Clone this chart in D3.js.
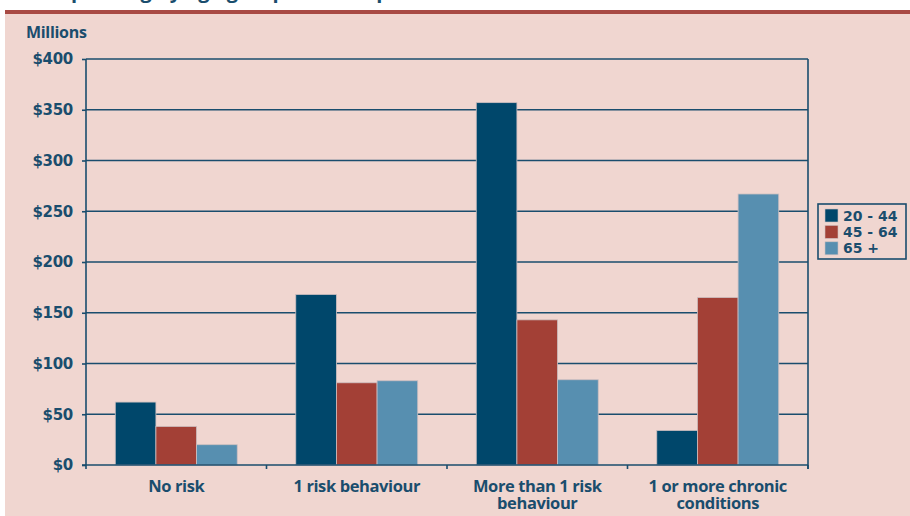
<!DOCTYPE html>
<html>
<head>
<meta charset="utf-8">
<script src="https://cdn.jsdelivr.net/npm/d3@7"></script>
<style>
  body { margin: 0; background: #fff; }
</style>
</head>
<body>
<script>
// Data (millions of dollars)
const categories = ["No risk", "1 risk behaviour", "More than 1 risk behaviour", "1 or more chronic conditions"];
const categoryLines = [["No risk"], ["1 risk behaviour"], ["More than 1 risk", "behaviour"], ["1 or more chronic", "conditions"]];
const seriesNames = ["20 - 44", "45 - 64", "65 +"];
const age20to44 = [62, 168, 357, 34];
const age45to64 = [38, 81, 143, 165];
const age65plus = [20, 83, 84, 267];
const yTicks = [0, 50, 100, 150, 200, 250, 300, 350, 400];

const seriesValues = [age20to44, age45to64, age65plus];
const colors = ["#00476b", "#a34036", "#578fb0"];
const ink = "#1a4d6d";

function createChart() {
    const svgWidth = 910, svgHeight = 516;
    const margin = { top: 59, right: 102, bottom: 51, left: 86 };
    const width = svgWidth - margin.left - margin.right;
    const height = svgHeight - margin.top - margin.bottom;

    const svg = d3.create("svg")
        .attr("width", svgWidth)
        .attr("height", svgHeight)
        .style("display", "block");

    // page background + header rule
    svg.append("rect").attr("x", 5).attr("y", 14).attr("width", svgWidth - 5).attr("height", svgHeight - 14)
        .attr("fill", "#f0d6d0");
    svg.append("rect").attr("x", 5).attr("y", 10).attr("width", svgWidth - 5).attr("height", 4)
        .attr("fill", "#a84a44");
    // title sits above the visible area, only descenders peek in
    svg.append("text")
        .attr("x", 60).attr("y", -2)
        .attr("fill", ink)
        .style("font", "bold 20px 'Open Sans', sans-serif")
        .text("Spending by age group and risk profile");

    svg.append("text")
        .attr("x", 26).attr("y", 38)
        .attr("fill", ink)
        .style("font", "bold 16px 'Open Sans', sans-serif")
        .style("letter-spacing", "-0.3px")
        .text("Millions");

    const g = svg.append("g")
        .attr("transform", `translate(${margin.left},${margin.top})`);

    const x0 = d3.scaleBand().domain(d3.range(categories.length)).range([0, width]).padding(0);
    const x1 = d3.scaleBand().domain(d3.range(seriesNames.length))
        .range([0, x0.bandwidth()]).paddingInner(0).paddingOuter(0.72);
    const y = d3.scaleLinear().domain([0, 400]).range([height, 0]);

    // gridlines
    g.append("g").selectAll("line")
        .data(yTicks.filter(d => d > 0))
        .join("line")
        .attr("x1", 0).attr("x2", width)
        .attr("y1", d => y(d)).attr("y2", d => y(d))
        .attr("stroke", ink).attr("stroke-width", 1.6);

    // right frame
    g.append("line")
        .attr("x1", width).attr("x2", width)
        .attr("y1", 0).attr("y2", height + 4)
        .attr("stroke", ink).attr("stroke-width", 1.6);

    // bars
    const groups = g.append("g").selectAll("g")
        .data(categories.map((c, i) => i))
        .join("g")
        .attr("transform", i => `translate(${x0(i)},0)`);

    groups.selectAll("rect")
        .data(i => seriesValues.map((vals, s) => ({ s, v: vals[i] })))
        .join("rect")
        .attr("x", d => x1(d.s))
        .attr("width", x1.bandwidth())
        .attr("y", d => y(d.v))
        .attr("height", d => height - y(d.v))
        .attr("fill", d => colors[d.s])
        .attr("stroke", "#cdbfc0")
        .attr("stroke-width", 0.8);

    // y axis
    const gy = g.append("g")
        .call(d3.axisLeft(y).tickValues(yTicks).tickSize(4).tickPadding(9).tickFormat(d => "$" + d));
    gy.select(".domain").attr("stroke", ink).attr("stroke-width", 1.6).attr("d", `M0,0V${height}`);
    gy.selectAll(".tick line").attr("stroke", ink).attr("stroke-width", 1.6);
    gy.selectAll(".tick text")
        .attr("fill", ink)
        .style("font", "bold 15px 'DejaVu Sans', sans-serif")
        .style("letter-spacing", "-0.3px");

    // x axis
    const xTickScale = d3.scaleLinear().domain([0, categories.length]).range([0, width]);
    const gx = g.append("g").attr("transform", `translate(0,${height})`);
    gx.append("line").attr("x1", -4).attr("x2", width).attr("stroke", ink).attr("stroke-width", 1.6);
    gx.selectAll(".xt")
        .data(d3.range(categories.length + 1))
        .join("line")
        .attr("x1", d => xTickScale(d)).attr("x2", d => xTickScale(d))
        .attr("y1", 0).attr("y2", 4)
        .attr("stroke", ink).attr("stroke-width", 1.6);

    const labelRows = categoryLines.flatMap((lines, i) => lines.map((t, k) => ({ i, k, t })));
    gx.selectAll(".cat")
        .data(labelRows)
        .join("text")
        .attr("class", "cat")
        .attr("text-anchor", "middle")
        .attr("fill", ink)
        .style("font", "bold 16.5px 'Open Sans', sans-serif")
        .style("letter-spacing", "-0.4px")
        .attr("x", d => x0(d.i) + x0.bandwidth() / 2)
        .attr("y", d => 27 + d.k * 17)
        .text(d => d.t);

    // legend
    const lg = svg.append("g").attr("transform", "translate(818,204)");
    lg.append("rect").attr("width", 88).attr("height", 55)
        .attr("fill", "none").attr("stroke", ink).attr("stroke-width", 1.6);
    const items = lg.selectAll(".item")
        .data(seriesNames)
        .join("g")
        .attr("transform", (d, i) => `translate(7,${5 + i * 16.4})`);
    items.append("rect").attr("width", 13).attr("height", 13)
        .attr("fill", (d, i) => colors[i]).attr("stroke", "#cdbfc0").attr("stroke-width", 0.6);
    items.append("text")
        .attr("x", 18).attr("y", 11.5)
        .attr("fill", ink)
        .style("font", "bold 14px 'DejaVu Sans', sans-serif")
        .text(d => d);

    document.body.append(svg.node());
}

createChart();
</script>
</body>
</html>
